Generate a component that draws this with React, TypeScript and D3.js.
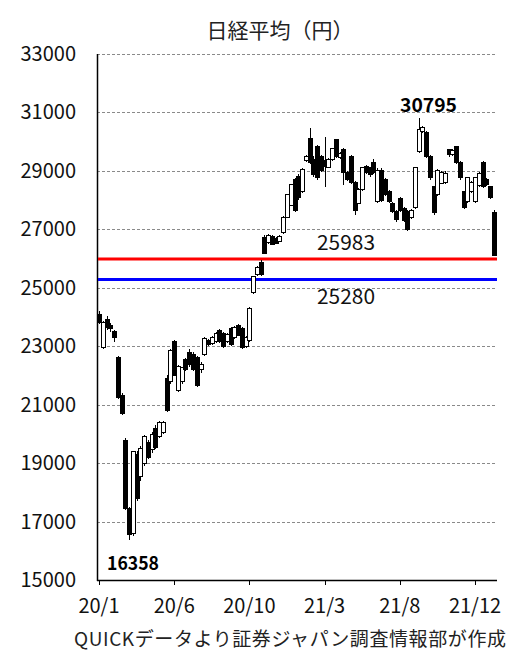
import * as d3 from "d3";
import { useEffect, useRef } from "react";

// 5営業日足 (2020/1 - 2022/1)
const openVals = [
  24100, 22950, 23900, 23700, 23490, 22630, 21330, 19760, 17430, 16600,
  19300, 18550, 19000, 19700, 19450, 20200, 19900, 20050, 21900, 21780,
  23150, 21500, 21780, 22530, 22800, 22700, 22600, 22200, 22700, 23200,
  23100, 23150, 23550, 23450, 23150, 23600, 23300, 23700, 23620, 23000,
  23200, 24830, 25440, 25880, 26730, 26550, 26750, 26700, 26600, 26880,
  27420, 27830, 28690, 28800, 28300, 29340, 30120, 29400, 29820, 29500,
  29350, 29130, 29400, 30060, 29450, 29720, 28950, 29480, 28600, 27900,
  28350, 29150, 29100, 29270, 27940, 29030, 28690, 28300, 27900, 27600,
  28070, 27700, 27600, 27390, 27760, 29650, 30350, 30300, 29500, 28450,
  28180, 28580, 28600, 29720, 29550, 29820, 29300, 28280, 27940, 28300,
  27940, 28500, 29300, 28700, 28450, 27590,
];
const highVals = [
  24200, 23850, 24050, 23800, 23550, 22650, 21400, 19860, 17500, 19400,
  19400, 19600, 19950, 19800, 20050, 20300, 20450, 20450, 22000, 22900,
  23200, 22350, 22300, 22600, 22900, 22800, 22650, 22450, 23300, 23250,
  23350, 23500, 23600, 23500, 23450, 23650, 23700, 23750, 23650, 23350,
  24350, 25400, 25750, 25950, 26800, 26850, 26800, 26750, 26800, 27450,
  28200, 28550, 28750, 28900, 29100, 29550, 30470, 29500, 29900, 29550,
  30160, 29450, 29800, 30100, 29650, 29800, 29000, 29550, 28650, 28400,
  29150, 29200, 29150, 29400, 29100, 29100, 28750, 28350, 27950, 27650,
  28100, 27750, 27650, 27700, 29150, 30795, 30550, 30350, 29550, 28500,
  29050, 28980, 29000, 29760, 29750, 29850, 29350, 28300, 28800, 28650,
  28800, 28950, 29350, 28750, 28500, 27650,
];
const lowVals = [
  23750, 22900, 23550, 23500, 23150, 21200, 20650, 17400, 16358, 16500,
  17700, 18400, 18900, 19150, 19350, 19500, 19850, 20000, 20750, 21700,
  22000, 21450, 21700, 22150, 22300, 22150, 21600, 22100, 22650, 23000,
  23050, 23100, 23100, 22950, 23100, 23000, 23250, 23350, 22900, 22950,
  23150, 24800, 25400, 25400, 26150, 26500, 26450, 26500, 26550, 26850,
  27400, 27800, 27600, 28000, 28250, 29300, 29250, 28800, 28700, 28950,
  28450, 29100, 29350, 29450, 29400, 28520, 28650, 28550, 27490, 27850,
  28300, 28900, 28800, 28900, 27900, 27950, 28150, 27900, 27550, 27250,
  27600, 27250, 26950, 27350, 27700, 29600, 30300, 29450, 28700, 27500,
  28150, 28550, 28550, 29480, 29500, 29250, 28700, 27700, 27900, 28250,
  27900, 28450, 28400, 28500, 28050, 26100,
];
const closeVals = [
  23800, 23800, 23650, 23600, 23300, 21260, 20710, 17430, 16550, 19390,
  17800, 19500, 19900, 19200, 19970, 19550, 20400, 20400, 20800, 22870,
  22010, 22290, 22260, 22190, 22360, 22200, 21670, 22360, 23280, 23050,
  23300, 23450, 23150, 22980, 23400, 23050, 23650, 23380, 22940, 23300,
  24300, 25380, 25700, 25440, 26190, 26800, 26470, 26530, 26750, 27420,
  28180, 28520, 27660, 28100, 29050, 29500, 29300, 28860, 28760, 29000,
  29150, 29400, 29780, 29480, 29600, 28930, 28700, 28600, 27660, 28350,
  29130, 28950, 28860, 28960, 29030, 28000, 28200, 27940, 27600, 27320,
  27660, 27300, 26980, 27660, 29130, 30400, 30500, 29500, 28760, 27560,
  29030, 28930, 28900, 29550, 29700, 29300, 28760, 27760, 28790, 28600,
  28760, 28900, 28450, 28550, 28100, 26120,
];

const yTickVals = [15000, 17000, 19000, 21000, 23000, 25000, 27000, 29000, 31000, 33000];
const xTickIdx = [0, 20, 40, 60, 80, 100];
const xTickLabels = ["20/1", "20/6", "20/10", "21/3", "21/8", "21/12"];

const levelVals = [25983, 25280];
const levelColors = ["#ff0000", "#0000ff"];

const highLabel = { idx: 85, value: 30795 };
const lowLabel = { idx: 8, value: 16358 };

const FONT = "'Noto Sans CJK JP', 'Noto Sans', sans-serif";

const App = () => {
  const ref = useRef<SVGSVGElement | null>(null);

  useEffect(() => {
    const svg = d3.select(ref.current);
    svg.selectAll("*").remove();

    const left = 97, right = 497, top = 54, bottom = 580;

    const x = d3.scaleLinear().domain([0, 105]).range([99, 493.8]);
    const y = d3.scaleLinear().domain([15000, 33000]).range([bottom, top]);

    // title
    svg.append("text")
      .attr("x", 280).attr("y", 38)
      .attr("text-anchor", "middle")
      .attr("font-family", FONT).attr("font-size", 21)
      .attr("fill", "#222")
      .text("日経平均（円）");

    // grid
    svg.append("g").selectAll("line")
      .data(yTickVals.filter((d) => d > 15000))
      .join("line")
      .attr("x1", left).attr("x2", right)
      .attr("y1", (d) => Math.round(y(d)) + 0.5)
      .attr("y2", (d) => Math.round(y(d)) + 0.5)
      .attr("stroke", "#8a8a8a")
      .attr("stroke-dasharray", "3,2");

    // y labels
    svg.append("g").selectAll("text")
      .data(yTickVals)
      .join("text")
      .attr("x", 76).attr("y", (d) => y(d) + 7)
      .attr("text-anchor", "end")
      .attr("font-family", FONT).attr("font-size", 20)
      .attr("fill", "#111")
      .text((d) => d);

    // axes
    svg.append("line")
      .attr("x1", left + 0.5).attr("x2", left + 0.5)
      .attr("y1", top).attr("y2", bottom + 1)
      .attr("stroke", "#000").attr("stroke-width", 1.5);
    svg.append("line")
      .attr("x1", left).attr("x2", right)
      .attr("y1", bottom + 0.5).attr("y2", bottom + 0.5)
      .attr("stroke", "#000").attr("stroke-width", 1.5);

    svg.append("g").selectAll("line")
      .data(xTickIdx)
      .join("line")
      .attr("x1", (d) => Math.round(x(d)) + 0.5)
      .attr("x2", (d) => Math.round(x(d)) + 0.5)
      .attr("y1", bottom).attr("y2", bottom + 5)
      .attr("stroke", "#000");

    svg.append("g").selectAll("text")
      .data(xTickIdx)
      .join("text")
      .attr("x", (d) => x(d)).attr("y", 613)
      .attr("text-anchor", "middle")
      .attr("font-family", FONT).attr("font-size", 20)
      .attr("fill", "#111")
      .text((d, i) => xTickLabels[i]);

    // level lines
    svg.append("g").selectAll("line")
      .data(levelVals)
      .join("line")
      .attr("x1", left + 1).attr("x2", right)
      .attr("y1", (d) => y(d)).attr("y2", (d) => y(d))
      .attr("stroke", (d, i) => levelColors[i])
      .attr("stroke-width", 3);

    svg.append("g").selectAll("text")
      .data(levelVals)
      .join("text")
      .attr("x", 346)
      .attr("y", (d, i) => (i === 0 ? y(d) - 9 : y(d) + 24))
      .attr("text-anchor", "middle")
      .attr("font-family", FONT).attr("font-size", 20)
      .attr("fill", "#111")
      .attr("textLength", 58).attr("lengthAdjust", "spacingAndGlyphs")
      .text((d) => d);

    // candles
    const bars = openVals.map((o, i) => ({
      i, o, h: highVals[i], l: lowVals[i], c: closeVals[i],
    }));
    const g = svg.append("g").attr("shape-rendering", "crispEdges");

    g.selectAll(".wick")
      .data(bars)
      .join("line")
      .attr("class", "wick")
      .attr("x1", (d) => Math.round(x(d.i)) + 0.5)
      .attr("x2", (d) => Math.round(x(d.i)) + 0.5)
      .attr("y1", (d) => y(d.h)).attr("y2", (d) => y(d.l))
      .attr("stroke", "#000");

    g.selectAll(".body")
      .data(bars)
      .join("rect")
      .attr("class", "body")
      .attr("x", (d) => Math.round(x(d.i)) - 1.5)
      .attr("y", (d) => y(Math.max(d.o, d.c)))
      .attr("width", 4)
      .attr("height", (d) => Math.max(1, Math.abs(y(d.o) - y(d.c))))
      .attr("fill", (d) => (d.c >= d.o ? "#fff" : "#000"))
      .attr("stroke", "#000");

    // high / low labels
    svg.append("text")
      .attr("x", 400).attr("y", 112)
      .attr("font-family", FONT).attr("font-size", 19).attr("font-weight", "bold")
      .attr("fill", "#000")
      .attr("textLength", 57).attr("lengthAdjust", "spacingAndGlyphs")
      .text(highLabel.value);
    svg.append("text")
      .attr("x", 107).attr("y", 570)
      .attr("font-family", FONT).attr("font-size", 19).attr("font-weight", "bold")
      .attr("fill", "#000")
      .attr("textLength", 52).attr("lengthAdjust", "spacingAndGlyphs")
      .text(lowLabel.value);

    // source
    svg.append("text")
      .attr("x", 290).attr("y", 646)
      .attr("text-anchor", "middle")
      .attr("font-family", FONT).attr("font-size", 19)
      .attr("fill", "#222")
      .attr("textLength", 432).attr("lengthAdjust", "spacing")
      .text("QUICKデータより証券ジャパン調査情報部が作成");
  }, []);

  return (
    <svg
      ref={ref}
      width={521}
      height={651}
      style={{ position: "absolute", left: 0, top: 0, background: "#fff" }}
    />
  );
};

export default App;
